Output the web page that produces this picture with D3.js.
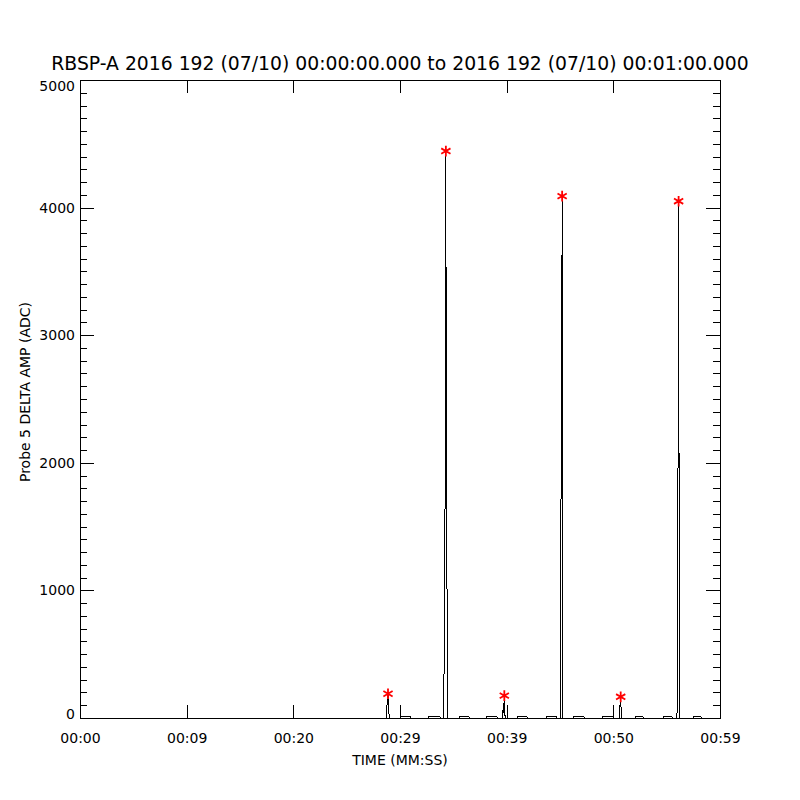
<!DOCTYPE html>
<html>
<head>
<meta charset="utf-8">
<script src="https://cdn.jsdelivr.net/npm/d3@7"></script>
<style>
  body { margin: 0; background: #fff; }
  text { font-family: "DejaVu Sans", sans-serif; fill: #000; }
</style>
</head>
<body>
<div id="chart"></div>
<script>
// chart values
var titleText = "RBSP-A 2016 192 (07/10) 00:00:00.000 to 2016 192 (07/10) 00:01:00.000";
var xTickValues = [0, 10, 20, 30, 40, 50, 60];
var xTickLabels = ["00:00", "00:09", "00:20", "00:29", "00:39", "00:50", "00:59"];
var yTickValues = [0, 1000, 2000, 3000, 4000, 5000];

// sample times (s) and delta amplitude (ADC)
var sampleTime = [0, 28.70, 28.78, 28.875, 28.95, 29.03,
    30.00, 30.04, 30.08, 31.00, 31.01,
    32.63, 32.64, 33.75, 33.76,
    34.05, 34.12, 34.22, 34.30, 34.33, 34.40, 34.42,
    35.53, 35.54, 36.47, 36.48,
    38.06, 38.07, 39.09, 39.10,
    39.60, 39.68, 39.71, 39.78, 39.84, 39.95, 40.04, 40.06, 40.09,
    40.97, 40.98, 41.91, 41.92,
    43.69, 43.70, 44.63, 44.64,
    45.04, 45.10, 45.16, 45.20, 45.25, 45.28,
    46.22, 46.23, 47.25, 47.26,
    48.94, 48.95, 49.97, 50.00, 50.03,
    50.55, 50.59, 50.69, 50.75,
    52.03, 52.04, 52.78, 52.79,
    54.66, 54.67, 55.50, 55.51,
    55.95, 56.00, 56.06, 56.10, 56.12, 56.16, 56.20, 56.23,
    57.47, 57.48, 58.22, 58.23, 60];
var sampleAmp = [0, 0, 100, 190, 45, 0,
    0, 95, 8, 8, 0,
    0, 8, 8, 0,
    0, 250, 1590, 4443, 2470, 1590, 0,
    0, 8, 8, 0,
    0, 8, 8, 0,
    0, 90, 40, 175, 20, 0, 0, 100, 0,
    0, 8, 8, 0,
    0, 8, 8, 0,
    0, 1850, 2210, 4090, 1850, 0,
    0, 8, 8, 0,
    0, 8, 8, 100, 0,
    0, 60, 166, 0,
    0, 8, 8, 0,
    0, 8, 8, 0,
    0, 90, 1935, 2120, 4050, 1935, 90, 0,
    0, 8, 8, 0, 0];

// flagged peaks (red asterisks)
var peakTime = [28.875, 34.30, 39.78, 45.20, 50.69, 56.12];
var peakAmp = [190, 4443, 175, 4090, 166, 4050];

var margin = {top: 80, right: 80, bottom: 82, left: 80};
var width = 800 - margin.left - margin.right;
var height = 800 - margin.top - margin.bottom;

var svg = d3.select("#chart").append("svg")
    .attr("width", 800)
    .attr("height", 800);

var g = svg.append("g")
    .attr("transform", "translate(" + margin.left + "," + margin.top + ")");

var x = d3.scaleLinear().domain([0, 60]).range([0, width]);
var y = d3.scaleLinear().domain([0, 5000]).range([height, 0]);

var yMinor = d3.range(0, 5001, 100).filter(function (d) { return d % 1000 !== 0; });

// axes
g.append("g")
    .attr("class", "axis")
    .call(d3.axisLeft(y).tickValues(yTickValues).tickSize(-14).tickPadding(5)
        .tickFormat(d3.format("d")));
g.append("g")
    .attr("class", "axis")
    .call(d3.axisLeft(y).tickValues(yMinor).tickSize(-7).tickFormat(""));
g.append("g")
    .attr("class", "axis")
    .attr("transform", "translate(" + width + ",0)")
    .call(d3.axisRight(y).tickValues(yTickValues).tickSize(-14).tickFormat(""));
g.append("g")
    .attr("class", "axis")
    .attr("transform", "translate(" + width + ",0)")
    .call(d3.axisRight(y).tickValues(yMinor).tickSize(-7).tickFormat(""));
g.append("g")
    .attr("class", "axis")
    .attr("transform", "translate(0," + height + ")")
    .call(d3.axisBottom(x).tickValues(xTickValues).tickSize(-13).tickPadding(15)
        .tickFormat(function (d, i) { return xTickLabels[i]; }));
g.append("g")
    .attr("class", "axis")
    .call(d3.axisTop(x).tickValues(xTickValues).tickSize(-13).tickFormat(""));

g.selectAll(".axis .domain").remove();
g.selectAll(".axis line")
    .attr("stroke", "#000")
    .attr("shape-rendering", "crispEdges");
g.selectAll(".axis text")
    .attr("font-size", "14px")
    .attr("font-family", "DejaVu Sans, sans-serif")
    .attr("fill", "#000");

// keep the end labels inside the axis range, like the original
g.selectAll(".axis .tick text")
    .filter(function (d) { return d === 5000; })
    .attr("dy", "0.75em");
g.selectAll(".axis .tick text")
    .filter(function (d) { return d === 0 && this.textContent === "0"; })
    .attr("dy", "0.05em");

g.append("rect")
    .attr("width", width)
    .attr("height", height)
    .attr("fill", "none")
    .attr("stroke", "#000")
    .attr("shape-rendering", "crispEdges");

// data line
var points = sampleTime.map(function (t, i) {
    return {t: t, v: sampleAmp[i]};
});

var line = d3.line()
    .x(function (d) { return x(d.t); })
    .y(function (d) { return y(d.v); });

g.append("path")
    .datum(points)
    .attr("d", line)
    .attr("fill", "none")
    .attr("stroke", "#000")
    .attr("stroke-width", 1)
    .attr("shape-rendering", "crispEdges");

// peak markers
g.selectAll(".peak")
    .data(peakTime)
    .enter()
    .append("path")
    .attr("class", "peak")
    .attr("transform", function (d, i) {
        return "translate(" + x(d) + "," + y(peakAmp[i]) + ")";
    })
    .attr("d", d3.symbol().type(d3.symbolAsterisk).size(80))
    .attr("fill", "none")
    .attr("stroke", "#ff0000")
    .attr("stroke-width", 1.8);

// titles
svg.append("text")
    .attr("x", 400)
    .attr("y", 70)
    .attr("text-anchor", "middle")
    .attr("font-size", "18.8px")
    .text(titleText);

svg.append("text")
    .attr("x", 400)
    .attr("y", 765)
    .attr("text-anchor", "middle")
    .attr("font-size", "14px")
    .text("TIME (MM:SS)");

svg.append("text")
    .attr("transform", "translate(30,392) rotate(-90)")
    .attr("text-anchor", "middle")
    .attr("font-size", "14px")
    .text("Probe 5 DELTA AMP (ADC)");
</script>
</body>
</html>
